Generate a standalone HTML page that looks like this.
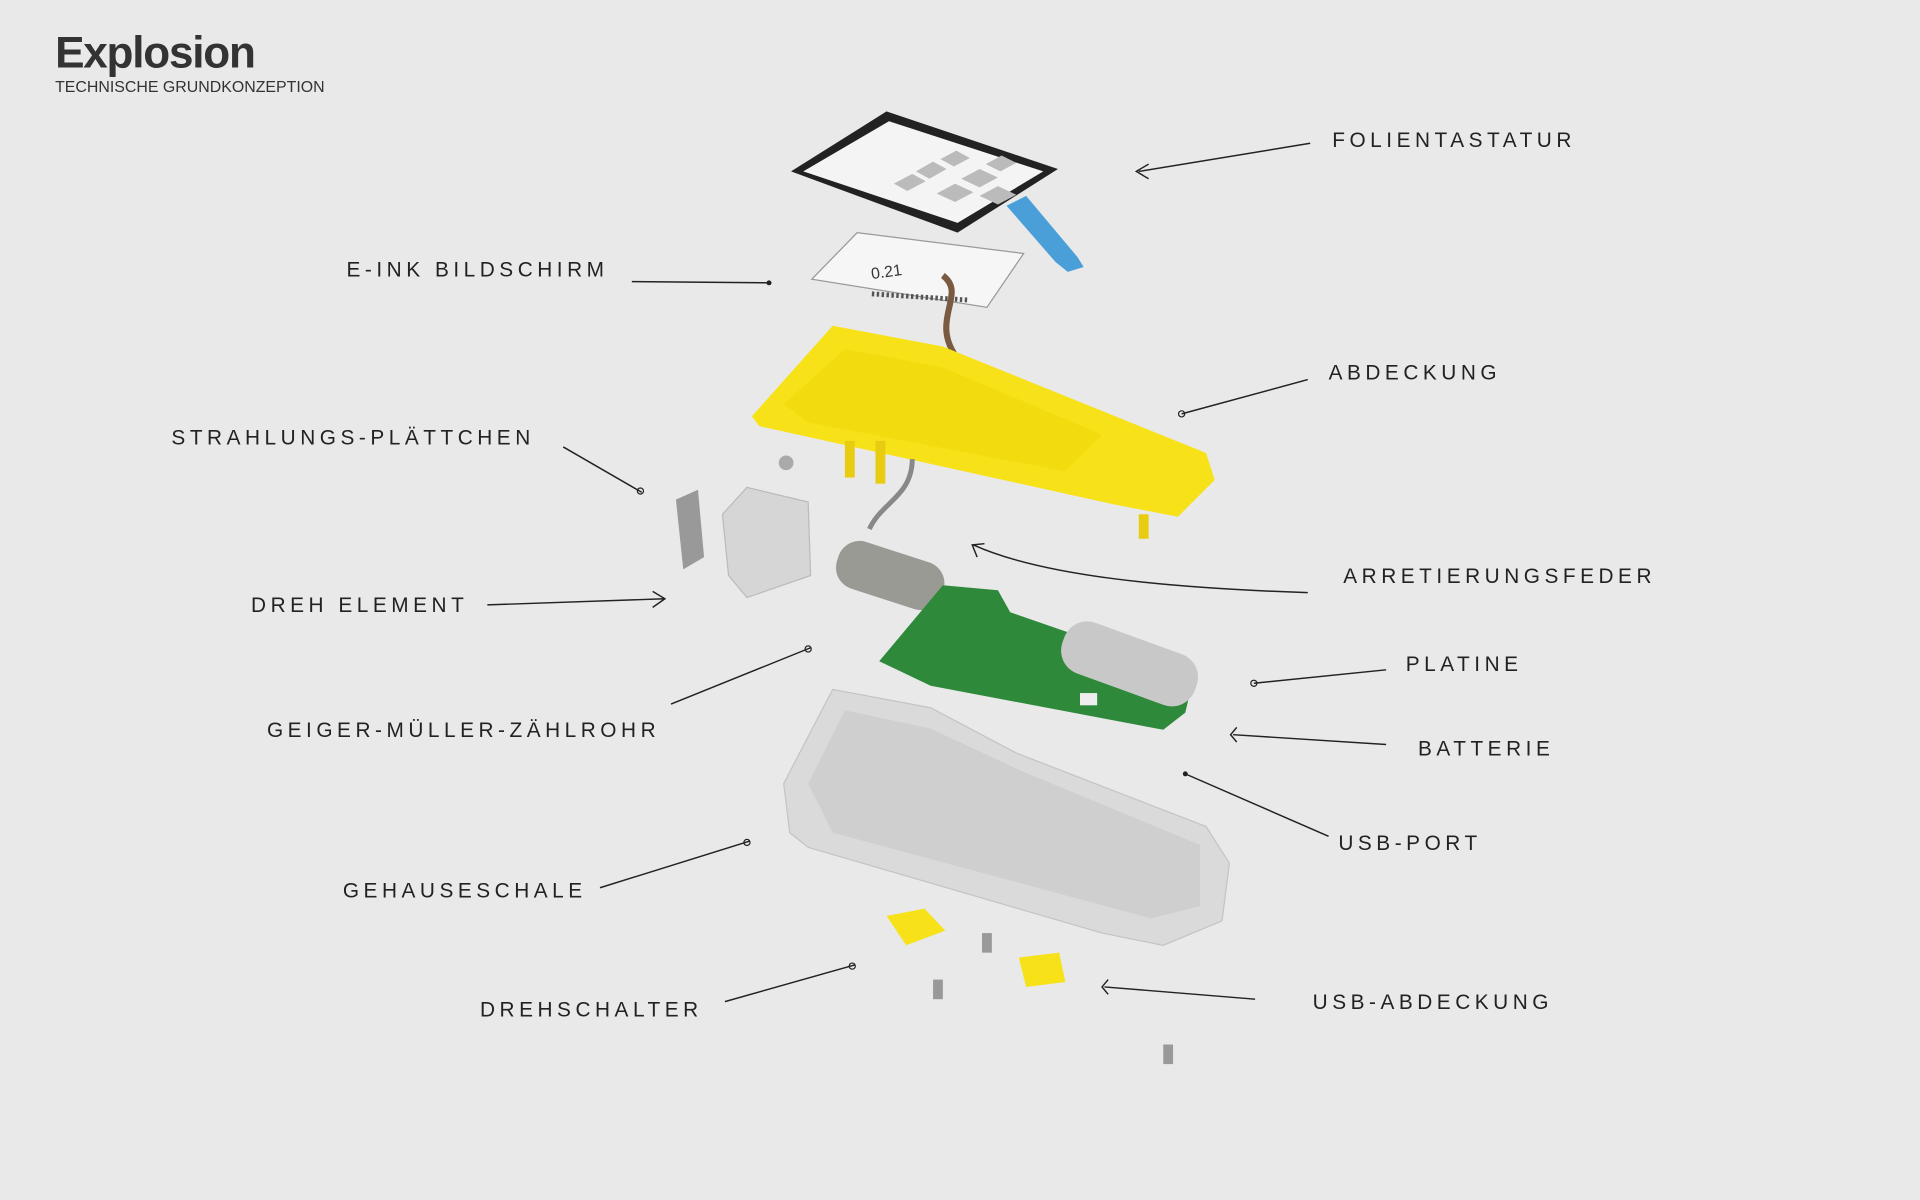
<!DOCTYPE html>
<html><head><meta charset="utf-8"><style>
html,body{margin:0;padding:0;background:#e9e9e9;width:1920px;height:1200px;overflow:hidden}
svg{display:block}
.h{font-family:"Liberation Sans",sans-serif;font-size:17px;letter-spacing:3.7px;fill:#222;font-weight:normal}
.l{stroke:#222;stroke-width:1.2;fill:none}
</style></head><body>
<svg width="1920" height="1200" viewBox="0 0 1568 980" xmlns="http://www.w3.org/2000/svg">
<rect width="1568" height="980" fill="#e9e9e9"/>
<text x="45" y="55" font-family="Liberation Sans Narrow, Liberation Sans, sans-serif" font-size="36" font-weight="bold" fill="#333" letter-spacing="-1">Explosion</text>
<text x="45" y="75" font-family="Liberation Sans, sans-serif" font-size="13" fill="#333">TECHNISCHE GRUNDKONZEPTION</text>

<!-- keypad -->
<path d="M838,160 L880,210 L885,218 L872,222 L862,214 L822,168 Z" fill="#4a9fd8"/>
<polygon points="646,140 724,91 864,138 782,190" fill="#222"/>
<polygon points="656,140 726,99 852,140 782,182" fill="#f4f4f4"/>
<g fill="#bbb"><polygon points="730,150 745,142 756,148 741,156"/><polygon points="748,140 762,132 773,138 759,146"/><polygon points="768,130 781,123 792,129 779,136"/><polygon points="765,158 780,150 795,157 780,165"/><polygon points="785,146 800,138 815,145 800,153"/><polygon points="800,160 815,152 830,159 815,167"/><polygon points="805,134 818,127 830,133 817,140"/></g>
<!-- display -->
<polygon points="663,228 700,190 836,207 806,251" fill="#f6f6f6" stroke="#999"/>
<text x="712" y="228" font-family="Liberation Sans,sans-serif" font-size="13" fill="#333" transform="rotate(-8 712 228)">0.21</text>
<path d="M712,240 L790,245" stroke="#555" stroke-width="4" stroke-dasharray="2 2"/>
<path d="M770,225 C790,240 760,260 780,290" stroke="#7a5a40" stroke-width="5" fill="none"/>
<!-- yellow cover -->
<polygon points="614,340 680,266 770,283 985,370 992,392 962,422 910,412 620,348" fill="#f7e21a"/>
<polygon points="640,330 690,285 770,300 900,355 870,385 660,345" fill="#f2dc10"/>
<rect x="690" y="360" width="8" height="30" fill="#e8cc10"/><rect x="715" y="360" width="8" height="35" fill="#e8cc10"/><rect x="930" y="420" width="8" height="20" fill="#e8cc10"/>
<path d="M745,375 C745,405 720,410 710,432" stroke="#888" stroke-width="4" fill="none"/>
<!-- bracket -->
<polygon points="552,408 570,400 575,455 558,465" fill="#999"/>
<polygon points="590,420 610,398 660,410 662,470 610,488 595,470" fill="#d6d6d6" stroke="#bbb"/>
<circle cx="642" cy="378" r="6" fill="#aaa"/>
<!-- GM tube -->
<rect x="682" y="450" width="90" height="40" rx="18" fill="#9a9a95" transform="rotate(18 727 470)"/>
<!-- PCB -->
<polygon points="718,540 770,478 815,482 825,500 975,552 968,582 950,596 760,560" fill="#2e8a3a"/>
<rect x="865" y="520" width="115" height="44" rx="20" fill="#c8c8c8" transform="rotate(20 922 542)"/>
<rect x="882" y="566" width="14" height="10" fill="#eee"/>
<!-- housing -->
<polygon points="640,640 680,563 760,578 830,615 985,675 1004,705 998,752 950,772 900,762 660,692 645,680" fill="#dadada" stroke="#c4c4c4"/>
<polygon points="660,640 690,580 760,595 835,630 980,690 980,740 940,750 680,680" fill="#cfcfcf"/>
<!-- small parts -->
<polygon points="724,748 755,742 772,760 740,772" fill="#f7e21a"/>
<polygon points="832,782 865,778 870,802 838,806" fill="#f7e21a"/>
<g fill="#999"><rect x="802" y="762" width="8" height="16"/><rect x="762" y="800" width="8" height="16"/><rect x="950" y="853" width="8" height="16"/></g>

<!-- labels -->
<text class="h" x="1088" y="120">FOLIENTASTATUR</text>
<path class="l" d="M1070,117 L930,140 M938,134 L928,140 L938,146"/>
<text class="h" x="283" y="226">E-INK BILDSCHIRM</text>
<path class="l" d="M516,230 L630,231"/><circle cx="628" cy="231" r="2" fill="#222"/>
<text class="h" x="1085" y="310">ABDECKUNG</text>
<path class="l" d="M1068,310 L965,338"/><circle cx="965" cy="338" r="2.5" fill="none" stroke="#222"/>
<text class="h" x="140" y="363">STRAHLUNGS-PLÄTTCHEN</text>
<path class="l" d="M460,365 L524,402"/><circle cx="523" cy="401" r="2.5" fill="none" stroke="#222"/>
<text class="h" x="205" y="500">DREH ELEMENT</text>
<path class="l" d="M398,494 L543,489 M533,483 L543,489 L533,496"/>
<text class="h" x="1097" y="476">ARRETIERUNGSFEDER</text>
<path class="l" d="M1068,484 C950,480 850,470 795,445 M798,455 L794,445 L804,444"/>
<text class="h" x="1148" y="548">PLATINE</text>
<path class="l" d="M1132,547 L1024,558"/><circle cx="1024" cy="558" r="2.5" fill="none" stroke="#222"/>
<text class="h" x="218" y="602">GEIGER-MÜLLER-ZÄHLROHR</text>
<path class="l" d="M548,575 L662,529"/><circle cx="660" cy="530" r="2.5" fill="none" stroke="#222"/>
<text class="h" x="1158" y="617">BATTERIE</text>
<path class="l" d="M1132,608 L1007,600 M1010,594 L1005,600 L1010,606"/>
<text class="h" x="1093" y="694">USB-PORT</text>
<path class="l" d="M1085,683 L968,632"/><circle cx="968" cy="632" r="2" fill="#222"/>
<text class="h" x="280" y="733">GEHAUSESCHALE</text>
<path class="l" d="M490,725 L612,687"/><circle cx="610" cy="688" r="2.5" fill="none" stroke="#222"/>
<text class="h" x="392" y="830">DREHSCHALTER</text>
<path class="l" d="M592,818 L698,788"/><circle cx="696" cy="789" r="2.5" fill="none" stroke="#222"/>
<text class="h" x="1072" y="824">USB-ABDECKUNG</text>
<path class="l" d="M1025,816 L902,806 M905,800 L900,806 L905,812"/>
</svg>
</body></html>
